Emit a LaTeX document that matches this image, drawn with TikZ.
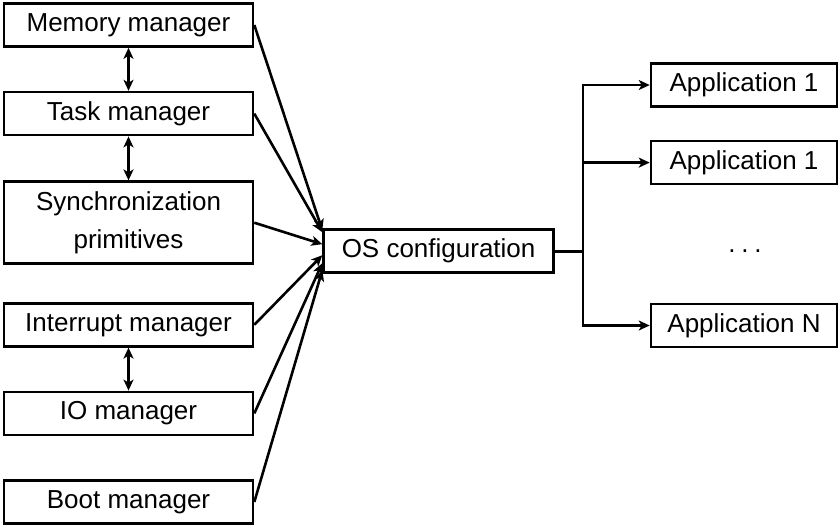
\documentclass[tikz,border=0pt]{standalone}
\usepackage{fontspec}
\setmainfont{Liberation Sans}
\usepackage{tikz}
\usetikzlibrary{arrows.meta, positioning, calc}

\begin{document}
\begin{tikzpicture}[
    x=0.5pt, y=-0.5pt,
    node distance=21.5pt,
    box/.style={rectangle, draw, line width=1.3pt, minimum width=124.5pt, minimum height=21.5pt, inner sep=2pt, align=center, font=\fontsize{13}{19}\selectfont},
    appbox/.style={box, minimum width=93pt},
    arrow/.style={-{Stealth[length=5.5pt, width=5pt, inset=1.5pt]}, line width=1.3pt},
    biarrow/.style={{Stealth[length=5.5pt, width=5pt, inset=1.5pt]}-{Stealth[length=5.5pt, width=5pt, inset=1.5pt]}, line width=1.3pt},
]
\useasboundingbox (0,0) rectangle (840,525);

% modules on the left
\node[box] (mem) at (128.5,25) {Memory manager};
\node[box, below=of mem] (task) {Task manager};
\node[box, below=22pt of task, minimum height=41pt] (sync) {Synchronization\\primitives};
\node[box, below=18.5pt of sync] (intr) {Interrupt manager};
\node[box, below=of intr] (io) {IO manager};
\node[box, below=of io] (boot) {Boot manager};

% configuration
\node[box, right=34pt of sync, yshift=-14.25pt, minimum width=115pt] (os) {OS configuration};
\coordinate[right=14pt of os] (split);

% applications
\node[appbox] (app1) at (744,85) {Application 1};
\node[appbox, below=16pt of app1] (app2) {Application 1};
\node[appbox] (appN) at (744,325.5) {Application N};
\node[font=\fontsize{13}{19}\selectfont, inner sep=0pt] (dots) at (745,251) {.\kern2.9pt.\kern2.9pt.};

\draw[biarrow] (mem) -- (task);
\draw[biarrow] (task) -- (sync);
\draw[biarrow] (intr) -- (io);

\draw[arrow] (mem.east) -- ([yshift=10.5pt]os.west);
\draw[arrow] (task.east) -- ([yshift=9.5pt]os.west);
\draw[arrow] (sync.east) -- ([yshift=3.5pt]os.west);
\draw[arrow] (intr.east) -- ([yshift=-2pt]os.west);
\draw[arrow] (io.east) -- ([yshift=-6pt]os.west);
\draw[arrow] (boot.east) -- ([yshift=-9.5pt]os.west);

\draw[line width=1.3pt] (os.east) -- (split);
\draw[arrow] (split) |- (app1.west);
\draw[arrow] (split) |- (app2.west);
\draw[arrow] (split) |- (appN.west);

\end{tikzpicture}
\end{document}
